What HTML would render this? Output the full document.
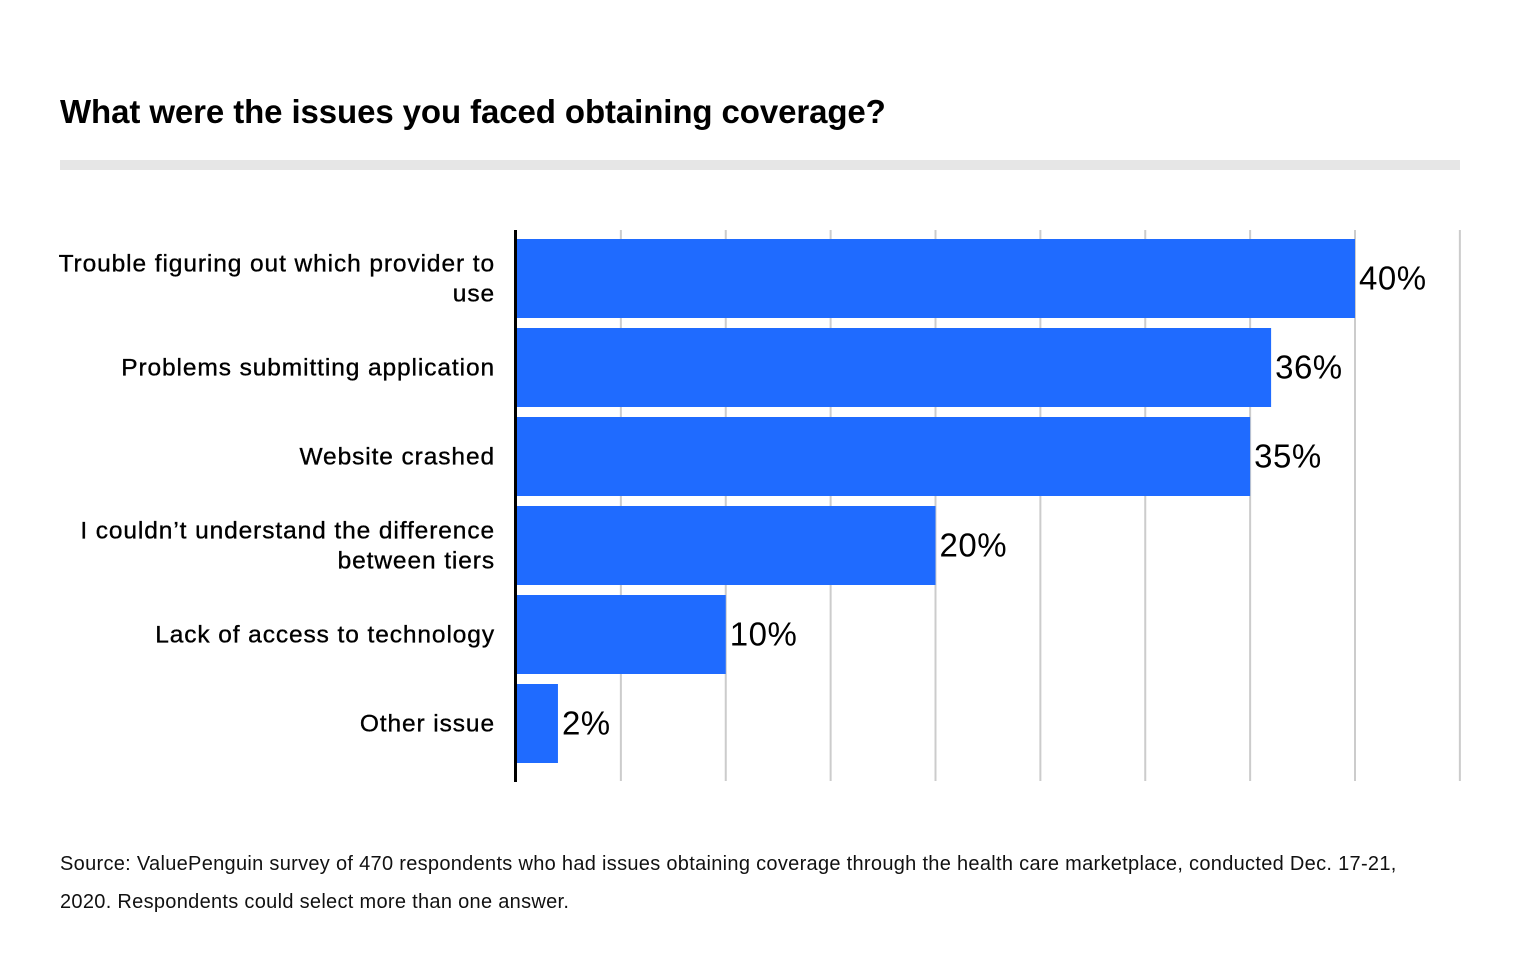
<!DOCTYPE html>
<html><head><meta charset="utf-8"><style>
body{margin:0;background:#fff;width:1520px;height:980px;overflow:hidden;font-family:"Liberation Sans",sans-serif;}
</style></head><body>
<div style="position:absolute;left:60px;top:93px;font-size:33px;font-weight:bold;color:#000;letter-spacing:-0.1px;">What were the issues you faced obtaining coverage?</div>
<div style="position:absolute;left:60px;top:160px;width:1400px;height:10px;background:#e6e6e6;"></div>
<svg id="chart" width="1520" height="980" style="position:absolute;left:0;top:0;"></svg>
<div style="position:absolute;left:60px;top:845px;width:1360px;font-size:20px;line-height:38px;color:#111;letter-spacing:0.3px;">Source: ValuePenguin survey of 470 respondents who had issues obtaining coverage through the health care marketplace, conducted Dec. 17-21, 2020. Respondents could select more than one answer.</div>
<script>
const categories=[["Trouble figuring out which provider to","use"],["Problems submitting application"],["Website crashed"],["I couldn\u2019t understand the difference","between tiers"],["Lack of access to technology"],["Other issue"]];
const values=[40,36,35,20,10,2];
const ticks=[0,5,10,15,20,25,30,35,40,45];
const NS="http://www.w3.org/2000/svg";
const svg=document.getElementById('chart');
const x0=516,pxPer=20.975,top0=239,pitch=89,bh=79;
const xs=v=>x0+v*pxPer;
function mk(t,a){const e=document.createElementNS(NS,t);for(const k in a)e.setAttribute(k,a[k]);svg.appendChild(e);return e;}
ticks.forEach(t=>{if(t===0)return;
const g=mk('line',{x1:xs(t),x2:xs(t),y1:230,y2:781,stroke:'#cccccc','stroke-width':2});

});
values.forEach((v,i)=>{const y=top0+i*pitch;
const r=mk('rect',{x:x0,y:y,width:xs(v)-x0,height:bh,fill:'#1f6bff'});


const t=mk('text',{x:xs(v)+4,y:y+bh/2+11,'font-size':33,fill:'#000','font-family':'Liberation Sans, sans-serif','letter-spacing':0.5});
t.textContent=v+'%';


const lines=categories[i];
lines.forEach((ln,j)=>{const ly=y+bh/2+8+(j-(lines.length-1)/2)*30;
const l=mk('text',{x:495,y:ly,'text-anchor':'end','font-size':24.5,fill:'#000','font-family':'Liberation Sans, sans-serif','letter-spacing':0.9,'stroke':'#000','stroke-width':0.35});
l.textContent=ln;

});
});
const ax=mk('line',{x1:515.5,x2:515.5,y1:230,y2:782,stroke:'#000','stroke-width':3});


</script>
</body></html>
